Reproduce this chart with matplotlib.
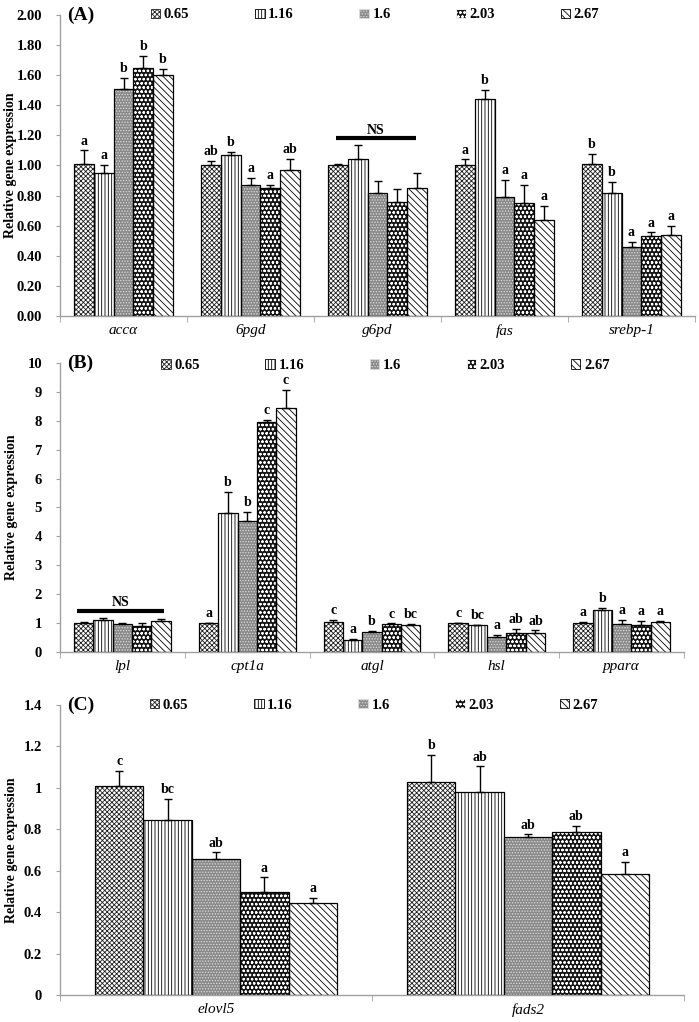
import numpy as np
import matplotlib.pyplot as plt
from matplotlib.patches import Patch

plt.rcParams['font.family'] = ['Liberation Serif', 'DejaVu Serif']
plt.rcParams['hatch.linewidth'] = 0.6

levels = ['0.65', '1.16', '1.6', '2.03', '2.67']

# (A) lipogenesis genes; rows = levels, columns = genes
genes_a = ['accα', '6pgd', 'g6pd', 'fas', 'srebp-1']
mean_a = [[1.01, 1.00, 1.00, 1.00, 1.01],
          [0.95, 1.07, 1.04, 1.44, 0.82],
          [1.51, 0.87, 0.82, 0.79, 0.46],
          [1.65, 0.85, 0.76, 0.75, 0.53],
          [1.60, 0.97, 0.85, 0.64, 0.54]]
err_a = [[0.09, 0.03, 0.01, 0.04, 0.065],
         [0.055, 0.02, 0.095, 0.06, 0.07],
         [0.07, 0.05, 0.08, 0.115, 0.035],
         [0.08, 0.02, 0.085, 0.12, 0.025],
         [0.04, 0.075, 0.10, 0.09, 0.06]]
let_a = [['a', 'ab', '', 'a', 'b'],
         ['a', 'b', '', 'b', 'b'],
         ['b', 'a', '', 'a', 'a'],
         ['b', 'a', '', 'a', 'a'],
         ['b', 'ab', '', 'a', 'a']]

# (B) lipolysis genes
genes_b = ['lpl', 'cpt1a', 'atgl', 'hsl', 'pparα']
mean_b = [[1.00, 1.00, 1.03, 1.00, 1.00],
          [1.10, 4.80, 0.42, 0.93, 1.47],
          [0.96, 4.53, 0.69, 0.53, 0.98],
          [0.89, 7.95, 0.97, 0.67, 0.94],
          [1.06, 8.45, 0.92, 0.67, 1.04]]
err_b = [[0.05, 0.0, 0.07, 0.01, 0.03],
         [0.09, 0.73, 0.04, 0.01, 0.06],
         [0.06, 0.33, 0.05, 0.07, 0.12],
         [0.12, 0.08, 0.02, 0.12, 0.14],
         [0.09, 0.62, 0.06, 0.08, 0.03]]
let_b = [['', 'a', 'c', 'c', 'a'],
         ['', 'b', 'a', 'bc', 'b'],
         ['', 'b', 'b', 'a', 'a'],
         ['', 'c', 'c', 'ab', 'a'],
         ['', 'c', 'bc', 'ab', 'a']]

# (C) LC-PUFA synthesis genes
genes_c = ['elovl5', 'fads2']
mean_c = [[1.008, 1.028],
          [0.846, 0.978],
          [0.658, 0.765],
          [0.498, 0.788],
          [0.443, 0.585]]
err_c = [[0.074, 0.13],
         [0.10, 0.126],
         [0.03, 0.01],
         [0.07, 0.03],
         [0.027, 0.058]]
let_c = [['c', 'b'],
         ['bc', 'ab'],
         ['ab', 'ab'],
         ['a', 'ab'],
         ['a', 'a']]

# face colour, hatch colour, hatch pattern for each level
styles = [('white', '#202020', 'xxxxxxx'),
          ('white', 'black', '|||||'),
          ('#8a8a8a', '#dddddd', '......'),
          ('#151515', 'white', 'oooo'),
          ('white', 'black', '\\\\\\\\\\')]

AXCOL = '#a0a0a0'
W = 0.155


def panel(ax, genes, means, errs, letters, ymax, yticks, ylabels, tag, legx, legy, ns=None):
    x = np.arange(len(genes))
    for j in range(len(levels)):
        xs = x + (j - 2) * W
        fc, hc, h = styles[j]
        ax.bar(xs, means[j], W, color=fc, edgecolor=hc, hatch=h, linewidth=0, zorder=2)
        ax.bar(xs, means[j], W, fill=False, edgecolor='black', linewidth=0.9, zorder=3)
        ax.errorbar(xs, means[j], yerr=[np.zeros(len(genes)), errs[j]], fmt='none',
                    ecolor='black', elinewidth=1, capsize=3.2, capthick=1, zorder=4)
        for k in range(len(genes)):
            if letters[j][k]:
                ax.annotate(letters[j][k], (xs[k], means[j][k] + errs[j][k]),
                            xytext=(0, 2), textcoords='offset points',
                            ha='center', va='bottom', fontsize=10, fontweight='bold')
    if ns is not None:
        i, x0, x1, ly, ty = ns
        ax.plot([i + x0, i + x1], [ly, ly], color='black', linewidth=3, solid_capstyle='butt')
        ax.text(i + (x0 + x1) / 2, ty, 'NS', ha='center', va='center',
                fontsize=10, fontweight='bold')

    ax.set_xlim(-0.5, len(genes) - 0.5)
    ax.set_ylim(0, ymax)
    ax.set_yticks(yticks)
    ax.set_yticklabels(ylabels, fontsize=10.5, fontweight='bold')
    ax.set_xticks(x)
    ax.set_xticklabels(genes, fontsize=11, style='italic')
    ax.set_xticks(np.arange(len(genes) + 1) - 0.5, minor=True)
    ax.tick_params(axis='x', which='major', length=0, pad=6)
    ax.tick_params(axis='x', which='minor', length=4, color=AXCOL, direction='out')
    ax.tick_params(axis='y', length=3, color=AXCOL, pad=10)
    for s in ['top', 'right']:
        ax.spines[s].set_visible(False)
    for s in ['left', 'bottom']:
        ax.spines[s].set_color(AXCOL)
        ax.spines[s].set_linewidth(1)
    ax.set_ylabel('Relative gene expression', fontsize=10, fontweight='bold')
    ax.yaxis.set_label_coords(-0.068, 0.5)
    ax.text(0.012, 1.0, tag, transform=ax.transAxes, fontsize=14, fontweight='bold',
            ha='left', va='center')

    handles = [Patch(facecolor=fc, edgecolor=hc, hatch=h, linewidth=0.6) for fc, hc, h in styles]
    ax.legend(handles, levels, ncol=5, loc='center left', bbox_to_anchor=(legx, legy),
              frameon=False, borderpad=0, borderaxespad=0, handlelength=0.65,
              handleheight=0.65, handletextpad=0.25, columnspacing=4.5,
              prop=dict(weight='bold', size=10.5))


fig = plt.figure(figsize=(6.99, 10.22), dpi=100)
ax_a = fig.add_axes([60 / 699, 1 - 316 / 1022, 635 / 699, 301 / 1022])
ax_b = fig.add_axes([60 / 699, 1 - 652 / 1022, 624 / 699, 289 / 1022])
ax_c = fig.add_axes([60 / 699, 1 - 995 / 1022, 624 / 699, 290 / 1022])

ya = np.arange(0, 2.01, 0.2)
panel(ax_a, genes_a, mean_a, err_a, let_a, 2.0, ya, ['%.2f' % v for v in ya],
      '(A)', 0.143, 1.0, ns=(2, -0.33, 0.30, 1.18, 1.23))
yb = np.arange(0, 11)
panel(ax_b, genes_b, mean_b, err_b, let_b, 10, yb, [str(v) for v in yb],
      '(B)', 0.162, 0.99, ns=(0, -0.36, 0.33, 1.41, 1.72))
yc = np.arange(0, 1.41, 0.2)
panel(ax_c, genes_c, mean_c, err_c, let_c, 1.4, yc, ['%g' % round(v, 1) for v in yc],
      '(C)', 0.144, 1.0)

fig.savefig('out.png', dpi=100)
